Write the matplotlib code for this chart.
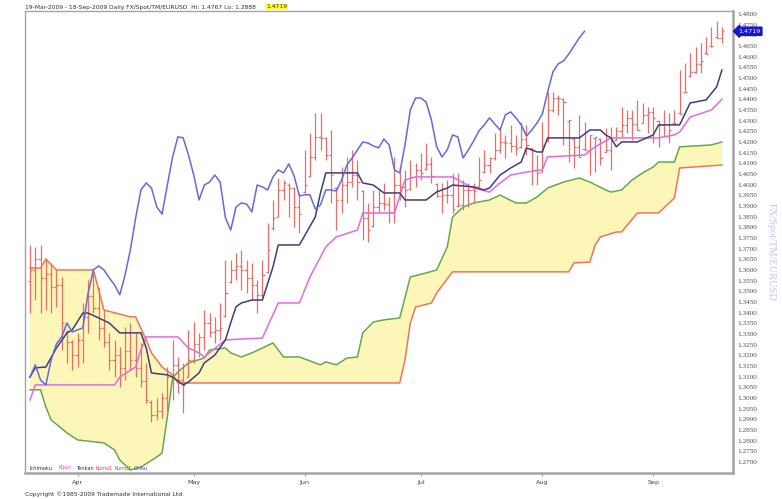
"""EUR/USD daily Ichimoku chart, 19-Mar-2009 to 18-Sep-2009 (Trademade style).

OHLC bars plus Tenkan / Kijun / Kumo / Chikou, cloud shaded between the two
Kumo lines. Values read off the reference screenshot.

Output:
    out.png
"""

from __future__ import annotations

import matplotlib

matplotlib.use("Agg")
import matplotlib.pyplot as plt
import matplotlib.transforms as mtransforms
import numpy as np
import pandas as pd


# ---- data ----------------------------------------------------------------
dates = pd.bdate_range("2009-03-19", "2009-09-18")  # 132 trading days

highs = [
    1.3717, 1.3708, 1.3717, 1.3656, 1.3633, 1.3600, 1.3567, 1.3319, 1.3272, 1.3305,
    1.3445, 1.3553, 1.3586, 1.3520, 1.3412, 1.3305, 1.3272, 1.3239, 1.3333, 1.3351,
    1.3305, 1.3257, 1.3164, 1.2990, 1.3000, 1.3023, 1.3145, 1.3272, 1.3192, 1.3164,
    1.3319, 1.3356, 1.3305, 1.3412, 1.3398, 1.3380, 1.3445, 1.3647, 1.3647, 1.3680,
    1.3694, 1.3647, 1.3633, 1.3553, 1.3647, 1.3820, 1.3928, 1.4031, 1.4022, 1.4008,
    1.3989, 1.3961, 1.4163, 1.4242, 1.4336, 1.4336, 1.4224, 1.4256, 1.3989, 1.4083,
    1.4130, 1.4163, 1.4116, 1.3975, 1.3914, 1.3975, 1.3975, 1.4008, 1.3942, 1.4130,
    1.4083, 1.4069, 1.4116, 1.4102, 1.4148, 1.4195, 1.4130, 1.4008, 1.4008, 1.4022,
    1.4055, 1.4055, 1.4022, 1.4008, 1.4008, 1.4130, 1.4163, 1.4130, 1.4242, 1.4270,
    1.4233, 1.4280, 1.4233, 1.4294, 1.4280, 1.4172, 1.4139, 1.4294, 1.4434, 1.4434,
    1.4420, 1.4406, 1.4303, 1.4219, 1.4327, 1.4294, 1.4233, 1.4224, 1.4219, 1.4266,
    1.4270, 1.4270, 1.4364, 1.4350, 1.4350, 1.4397, 1.4383, 1.4364, 1.4364, 1.4303,
    1.4350, 1.4336, 1.4350, 1.4537, 1.4570, 1.4617, 1.4645, 1.4664, 1.4692, 1.4739,
    1.4767, 1.4739,
]
lows = [
    1.3398, 1.3459, 1.3398, 1.3412, 1.3398, 1.3426, 1.3225, 1.3164, 1.3131, 1.3145,
    1.3164, 1.3305, 1.3398, 1.3272, 1.3239, 1.3131, 1.3098, 1.3051, 1.3084, 1.3131,
    1.3098, 1.3051, 1.2976, 1.2888, 1.2895, 1.2905, 1.2930, 1.2990, 1.3023, 1.2930,
    1.3098, 1.3164, 1.3192, 1.3225, 1.3286, 1.3258, 1.3272, 1.3380, 1.3539, 1.3553,
    1.3506, 1.3492, 1.3459, 1.3398, 1.3473, 1.3586, 1.3787, 1.3848, 1.3928, 1.3848,
    1.3801, 1.3773, 1.3961, 1.4036, 1.4116, 1.4163, 1.4116, 1.3914, 1.3787, 1.3867,
    1.3914, 1.3989, 1.3928, 1.3741, 1.3731, 1.3801, 1.3867, 1.3881, 1.3820, 1.3820,
    1.3928, 1.3895, 1.3975, 1.3989, 1.4022, 1.4069, 1.4008, 1.3942, 1.3867, 1.3914,
    1.3867, 1.3895, 1.3881, 1.3895, 1.3914, 1.3989, 1.4055, 1.4055, 1.4116, 1.4148,
    1.4125, 1.4153, 1.4139, 1.4172, 1.4139, 1.3998, 1.3998, 1.4059, 1.4200, 1.4341,
    1.4327, 1.4186, 1.4106, 1.4078, 1.4130, 1.4163, 1.4045, 1.4059, 1.4092, 1.4153,
    1.4069, 1.4209, 1.4224, 1.4242, 1.4209, 1.4256, 1.4289, 1.4242, 1.4195, 1.4177,
    1.4228, 1.4195, 1.4289, 1.4331, 1.4434, 1.4505, 1.4523, 1.4523, 1.4612, 1.4645,
    1.4688, 1.4664,
]
opens = [
    1.3550, 1.3600, 1.3650, 1.3560, 1.3580, 1.3520, 1.3530, 1.3310, 1.3260, 1.3200,
    1.3270, 1.3380, 1.3480, 1.3420, 1.3330, 1.3260, 1.3180, 1.3200, 1.3140, 1.3220,
    1.3180, 1.3140, 1.3080, 1.2980, 1.2920, 1.2940, 1.3000, 1.3098, 1.3155, 1.3084,
    1.3100, 1.3178, 1.3253, 1.3286, 1.3351, 1.3309, 1.3319, 1.3385, 1.3545, 1.3600,
    1.3619, 1.3600, 1.3563, 1.3530, 1.3483, 1.3590, 1.3795, 1.3850, 1.3975, 1.4000,
    1.3984, 1.3895, 1.3965, 1.4040, 1.4130, 1.4224, 1.4219, 1.4139, 1.3985, 1.3928,
    1.3998, 1.4012, 1.4045, 1.3970, 1.3844, 1.3805, 1.3895, 1.3914, 1.3909, 1.3872,
    1.3998, 1.3989, 1.3980, 1.4036, 1.4069, 1.4075, 1.4097, 1.4005, 1.3947, 1.3952,
    1.3952, 1.3900, 1.3905, 1.3975, 1.3975, 1.3995, 1.4060, 1.4092, 1.4125, 1.4163,
    1.4200, 1.4195, 1.4181, 1.4175, 1.4214, 1.4170, 1.4069, 1.4060, 1.4205, 1.4350,
    1.4406, 1.4400, 1.4300, 1.4215, 1.4177, 1.4165, 1.4163, 1.4220, 1.4215, 1.4155,
    1.4163, 1.4210, 1.4252, 1.4280, 1.4313, 1.4284, 1.4290, 1.4327, 1.4341, 1.4300,
    1.4280, 1.4228, 1.4290, 1.4335, 1.4436, 1.4508, 1.4528, 1.4566, 1.4615, 1.4648,
    1.4690, 1.4688,
]
closes = [
    1.3600, 1.3650, 1.3560, 1.3580, 1.3520, 1.3530, 1.3350, 1.3260, 1.3200, 1.3270,
    1.3380, 1.3480, 1.3420, 1.3330, 1.3260, 1.3180, 1.3200, 1.3140, 1.3220, 1.3180,
    1.3140, 1.3080, 1.2990, 1.2920, 1.2940, 1.3000, 1.3098, 1.3155, 1.3084, 1.3061,
    1.3178, 1.3253, 1.3286, 1.3351, 1.3309, 1.3319, 1.3328, 1.3492, 1.3600, 1.3619,
    1.3600, 1.3563, 1.3530, 1.3483, 1.3577, 1.3694, 1.3844, 1.3975, 1.4008, 1.3984,
    1.3895, 1.3862, 1.3998, 1.4130, 1.4224, 1.4219, 1.4139, 1.4045, 1.3928, 1.3998,
    1.4012, 1.4045, 1.4012, 1.3844, 1.3787, 1.3895, 1.3914, 1.3909, 1.3872, 1.3998,
    1.3989, 1.3975, 1.4036, 1.4069, 1.4055, 1.4097, 1.4041, 1.3947, 1.3952, 1.3952,
    1.3886, 1.3905, 1.3975, 1.3975, 1.3970, 1.4022, 1.4092, 1.4125, 1.4163, 1.4200,
    1.4195, 1.4181, 1.4172, 1.4214, 1.4186, 1.4069, 1.4055, 1.4186, 1.4350, 1.4406,
    1.4406, 1.4387, 1.4303, 1.4177, 1.4130, 1.4163, 1.4233, 1.4224, 1.4125, 1.4163,
    1.4205, 1.4252, 1.4280, 1.4313, 1.4284, 1.4256, 1.4327, 1.4341, 1.4313, 1.4280,
    1.4228, 1.4256, 1.4289, 1.4331, 1.4434, 1.4528, 1.4566, 1.4580, 1.4612, 1.4650,
    1.4688, 1.4719,
]
CHIKOU_LAG = 26  # chikou = close plotted 26 bars back

# indicator lines as (bar index, value) vertices
tenkan_idx = [0, 1, 3, 5, 7, 8, 10, 11, 13, 15, 17, 21, 22, 23, 26, 27, 29, 30, 32, 33,
              35, 37, 38, 39, 40, 42, 44, 46, 47, 51, 54, 55, 56, 62, 63, 65, 67, 70, 71, 75,
              77, 79, 80, 84, 86, 87, 89, 91, 93, 94, 96, 97, 98, 104, 106, 108, 109, 110,
              111, 112, 115, 118, 119, 123, 125, 128, 130, 131]
tenkan_val = [1.3098, 1.3141, 1.3145, 1.3234, 1.3305, 1.3319, 1.3398, 1.3398, 1.3375, 1.3351,
              1.3305, 1.3305, 1.3234, 1.3117, 1.3108, 1.3098, 1.3061, 1.3075, 1.3117, 1.3164,
              1.3201, 1.3272, 1.3352, 1.3427, 1.3445, 1.3459, 1.3459, 1.3614, 1.3717, 1.3717,
              1.3848, 1.3961, 1.4055, 1.4055, 1.4008, 1.3998, 1.3961, 1.3961, 1.3928, 1.3928,
              1.3966, 1.3984, 1.3998, 1.3989, 1.3975, 1.3984, 1.4045, 1.4078, 1.4106, 1.4172,
              1.4153, 1.4153, 1.4219, 1.4219, 1.4256, 1.4256, 1.4233, 1.4219, 1.4177, 1.4200,
              1.4200, 1.4233, 1.4280, 1.4280, 1.4383, 1.4397, 1.4458, 1.4537]

kijun_idx = [0, 1, 16, 17, 20, 21, 22, 28, 30, 32, 33, 37, 44, 47, 51, 53, 56, 58, 62, 63,
             69, 71, 73, 80, 82, 84, 87, 89, 91, 94, 97, 98, 105, 107, 110, 119, 122, 123,
             125, 129, 131]
kijun_val = [1.2990, 1.3061, 1.3061, 1.3098, 1.3145, 1.3225, 1.3286, 1.3286, 1.3234, 1.3211,
             1.3192, 1.3272, 1.3281, 1.3445, 1.3445, 1.3567, 1.3708, 1.3755, 1.3787, 1.3867,
             1.3867, 1.4022, 1.4036, 1.4036, 1.4008, 1.3984, 1.3965, 1.4008, 1.4045, 1.4059,
             1.4069, 1.4130, 1.4139, 1.4177, 1.4219, 1.4219, 1.4233, 1.4247, 1.4317, 1.4350,
             1.4400]

kumo1_idx = [0, 2, 3, 5, 12, 14, 19, 20, 22, 23, 25, 27, 28, 70, 71, 72, 73, 76, 77, 80,
             102, 103, 106, 107, 108, 111, 112, 115, 119, 122, 123, 131]
kumo1_val = [1.3609, 1.3609, 1.3651, 1.3600, 1.3600, 1.3412, 1.3380, 1.3380, 1.3272, 1.3211,
             1.3145, 1.3108, 1.3070, 1.3070, 1.3178, 1.3351, 1.3426, 1.3445, 1.3492, 1.3591,
             1.3591, 1.3633, 1.3637, 1.3717, 1.3755, 1.3778, 1.3778, 1.3867, 1.3867, 1.3937,
             1.4078, 1.4092]

kumo2_idx = [0, 2, 3, 4, 7, 9, 14, 16, 17, 19, 21, 24, 25, 26, 27, 28, 30, 33, 34, 37,
             38, 40, 42, 44, 46, 48, 51, 55, 56, 58, 60, 62, 63, 65, 67, 70, 72, 75, 77, 79,
             80, 82, 84, 87, 89, 92, 94, 96, 98, 101, 104, 106, 109, 110, 112, 114, 116, 118,
             119, 122, 123, 129, 131]
kumo2_val = [1.3038, 1.3038, 1.2958, 1.2897, 1.2836, 1.2803, 1.2789, 1.2756, 1.2709, 1.2662,
             1.2676, 1.2723, 1.2742, 1.2911, 1.3094, 1.3122, 1.3164, 1.3187, 1.3225, 1.3234,
             1.3211, 1.3192, 1.3211, 1.3234, 1.3258, 1.3192, 1.3192, 1.3155, 1.3169, 1.3155,
             1.3187, 1.3192, 1.3305, 1.3356, 1.3366, 1.3375, 1.3567, 1.3586, 1.3600, 1.3708,
             1.3848, 1.3895, 1.3914, 1.3928, 1.3951, 1.3914, 1.3914, 1.3942, 1.3984, 1.4012,
             1.4031, 1.4012, 1.3975, 1.3965, 1.3975, 1.4022, 1.4055, 1.4083, 1.4106, 1.4106,
             1.4177, 1.4186, 1.4200]

HEADER = "19-Mar-2009 - 18-Sep-2009 Daily FX/Spot/TM/EURUSD  Hi: 1.4767 Lo: 1.2888"
LAST = 1.4719
YTICKS = np.arange(1.2700, 1.48001, 0.005)
legend_words = ["Ichimoku", "Kijun", "Tenkan", "Kumo1", "Kumo2", "Chiku"]

# colours
BAR = "#ec6c66"
CHIKU = "#6767e4"
TENKAN = "#3e3e7a"
KIJUN = "#e46ae4"
KUMO1 = "#f0745c"
KUMO2 = "#66a84e"
CLOUD = "#fcf7b9"
FRAME = "#a4a4a4"
LEGEND_COLORS = ["#303030", "#e040e0", "#24246e", "#f03c3c", "#3c9c2c", "#3c3ce0"]


def main() -> None:
    x = np.arange(len(dates))
    o, h, l, c = (np.asarray(v) for v in (opens, highs, lows, closes))

    fig = plt.figure(figsize=(7.82, 4.99), dpi=100)
    ax = fig.add_axes([25 / 782, 26 / 499, 708 / 782, 462 / 499])

    # cloud: polygon along kumo1 forward, kumo2 back
    ax.fill(np.r_[kumo1_idx, kumo2_idx[::-1]], np.r_[kumo1_val, kumo2_val[::-1]],
            color=CLOUD, lw=0, zorder=1)
    ax.plot(kumo1_idx, kumo1_val, color=KUMO1, lw=1.1, zorder=2)
    ax.plot(kumo2_idx, kumo2_val, color=KUMO2, lw=1.1, zorder=2)

    # OHLC bars
    ax.vlines(x, l, h, color=BAR, lw=0.9, zorder=3)
    ax.hlines(o, x - 0.4, x, color=BAR, lw=0.9, zorder=3)
    ax.hlines(c, x, x + 0.4, color=BAR, lw=0.9, zorder=3)

    ax.plot(kijun_idx, kijun_val, color=KIJUN, lw=1.1, zorder=4)
    ax.plot(tenkan_idx, tenkan_val, color=TENKAN, lw=1.1, zorder=4)
    ax.plot(x[CHIKOU_LAG:] - CHIKOU_LAG, c[CHIKOU_LAG:], color=CHIKU, lw=1.1, zorder=5)

    ax.set_xlim(-0.95, 133.1)
    ax.set_ylim(1.2648, 1.4814)

    # month ticks at first trading day of each month
    mpos = [i for i in range(1, len(dates)) if dates[i].month != dates[i - 1].month]
    ax.set_xticks(mpos)
    ax.set_xticklabels([dates[i].strftime("%b") for i in mpos],
                       fontsize=4.6, color="#404040")
    ax.tick_params(axis="x", length=2, width=0.6, color="#909090", pad=3)

    ax.yaxis.tick_right()
    ax.set_yticks(YTICKS)
    ax.set_yticklabels([f"{v:.4f}" for v in YTICKS], fontsize=5.2,
                       family="Liberation Serif", color="#505050")
    ax.tick_params(axis="y", length=0, pad=3)

    for side, sp in ax.spines.items():
        sp.set_color(FRAME)
        sp.set_linewidth(1.8 if side in ("right", "bottom") else 1.0)

    # last price marker
    trans = mtransforms.blended_transform_factory(ax.transAxes, ax.transData)
    ax.text(1.007, LAST, f"{LAST:.4f}", transform=trans, ha="left", va="center",
            fontsize=4.6, color="white", zorder=10, clip_on=False,
            bbox=dict(boxstyle="larrow,pad=0.25", fc="#1414d2", ec="#1414d2"))

    # header / footer / legend
    fig.text(25 / 782, 1 - 7 / 499, HEADER, fontsize=4.3, color="#303030", va="center")
    fig.text(266 / 782, 1 - 7 / 499, f"{LAST:.4f}", fontsize=4.3, color="#303030",
             va="center", bbox=dict(boxstyle="square,pad=0.15", fc="#ffff20", ec="none"))
    fig.text(25 / 782, 1 - 494 / 499, "Copyright \u00a91985-2009 Trademade International Ltd",
             fontsize=4.3, color="#303030", va="center")
    for word, col, px in zip(legend_words, LEGEND_COLORS, (30, 59, 76, 95, 114, 134)):
        fig.text(px / 782, 1 - 468 / 499, word, fontsize=3.6, color=col, va="center")
    fig.text(771 / 782, 1 - 252 / 499, "FX/Spot/TM/EURUSD", rotation=270,
             fontsize=7.5, family="Liberation Serif", color="#c4c4f4",
             ha="center", va="center")

    fig.savefig("out.png", dpi=100)
    plt.close(fig)


if __name__ == "__main__":
    main()
